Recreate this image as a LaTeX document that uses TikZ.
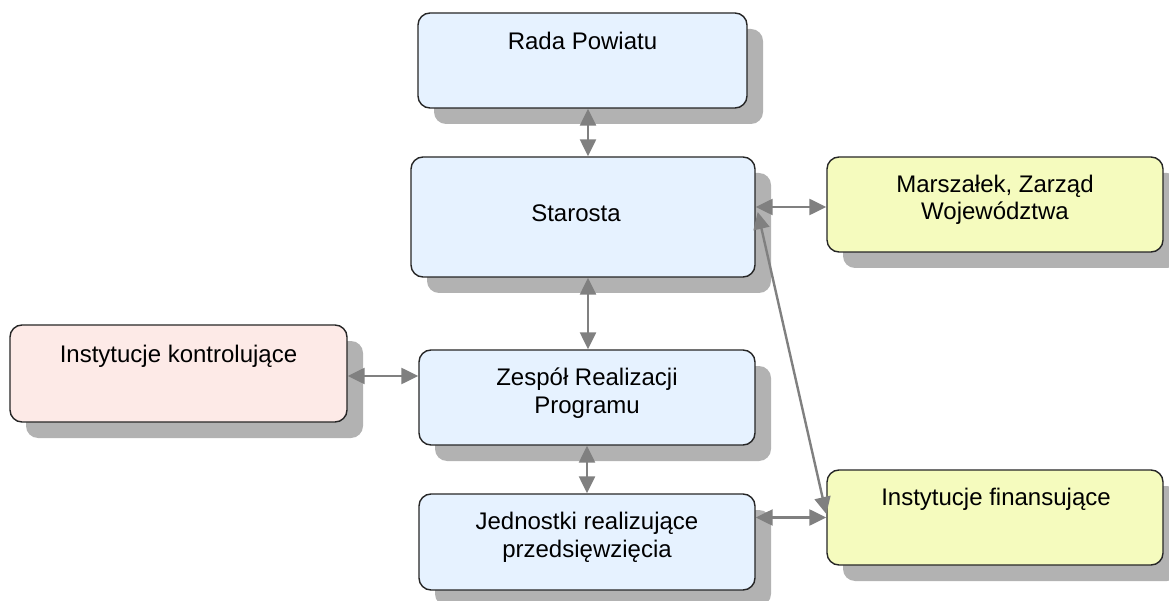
\documentclass[tikz,border=0pt]{standalone}
\usepackage{fontspec}
\setmainfont{Liberation Sans}
\usetikzlibrary{arrows.meta,shadows}
\definecolor{boxblue}{HTML}{E6F2FF}
\definecolor{boxpink}{HTML}{FDEAE7}
\definecolor{boxyellow}{HTML}{F5FBBE}
\definecolor{shadowgray}{HTML}{B2B2B2}
\definecolor{arrowgray}{HTML}{808080}
\definecolor{edgegray}{HTML}{262626}
\begin{document}
\begin{tikzpicture}[x=1pt,y=-1pt,
  box/.style={draw=edgegray, line width=1.4pt, rounded corners=12pt, inner sep=0pt,
    drop shadow={shadow xshift=16pt, shadow yshift=-16pt, fill=shadowgray, opacity=1}},
  bluebox/.style={box, fill=boxblue},
  pinkbox/.style={box, fill=boxpink},
  yellowbox/.style={box, fill=boxyellow},
  txt/.style={font=\fontsize{24}{27.5}\selectfont, align=center, anchor=base, inner sep=0pt},
  link/.style={draw=arrowgray, line width=2.4pt,
    {Triangle[length=17pt 0 0,width=16pt 0 0]}-{Triangle[length=17pt 0 0,width=16pt 0 0]}}
]
\useasboundingbox (0,0) rectangle (1169,601);

% boxes
\node[bluebox, minimum width=329pt, minimum height=95pt] (rada) at (582.5,60.5) {};
\node[bluebox, minimum width=344pt, minimum height=120pt] (starosta) at (583,217) {};
\node[yellowbox, minimum width=336pt, minimum height=95pt] (marszalek) at (995,204.5) {};
\node[pinkbox, minimum width=337pt, minimum height=97pt] (kontrol) at (178.5,373.5) {};
\node[bluebox, minimum width=336pt, minimum height=95pt] (zespol) at (587,397.5) {};
\node[bluebox, minimum width=336pt, minimum height=96pt] (jednostki) at (587,542) {};
\node[yellowbox, minimum width=336pt, minimum height=95pt] (finans) at (995,517.5) {};

% texts (base anchor = baseline of last line)
\node[txt] (radaT) at (582.5,50) {Rada Powiatu};
\node[txt] (starostaT) at (576,222) {Starosta};
\node[txt] (marszalekT) at (995,220) {Marszałek, Zarząd\\Województwa};
\node[txt] (kontrolT) at (178.5,362) {Instytucje kontrolujące};
\node[txt] (zespolT) at (587,413) {Zespół Realizacji\\Programu};
\node[txt] (jednostkiT) at (587,557) {Jednostki realizujące\\przedsięwzięcia};
\node[txt] (finansT) at (996,505) {Instytucje finansujące};

% connectors
\draw[link] ([xshift=5.5pt]rada.south) -- ([xshift=5pt]starosta.north);
\draw[link] ([xshift=5pt]starosta.south) -- ([xshift=1pt]zespol.north);
\draw[link] (zespol.south) -- (jednostki.north);
\draw[link] ([yshift=-2.5pt]kontrol.east) -- ([yshift=-2.5pt]kontrol.east -| zespol.west);
\draw[link] ([yshift=10pt]starosta.east) -- ([yshift=10pt]starosta.east -| marszalek.west);
\draw[link] (jednostki.east |- finans.west) -- (finans.west);
\draw[link] ([xshift=2pt,yshift=5pt]starosta.east) -- ([yshift=3.5pt]finans.west);
\end{tikzpicture}
\end{document}
